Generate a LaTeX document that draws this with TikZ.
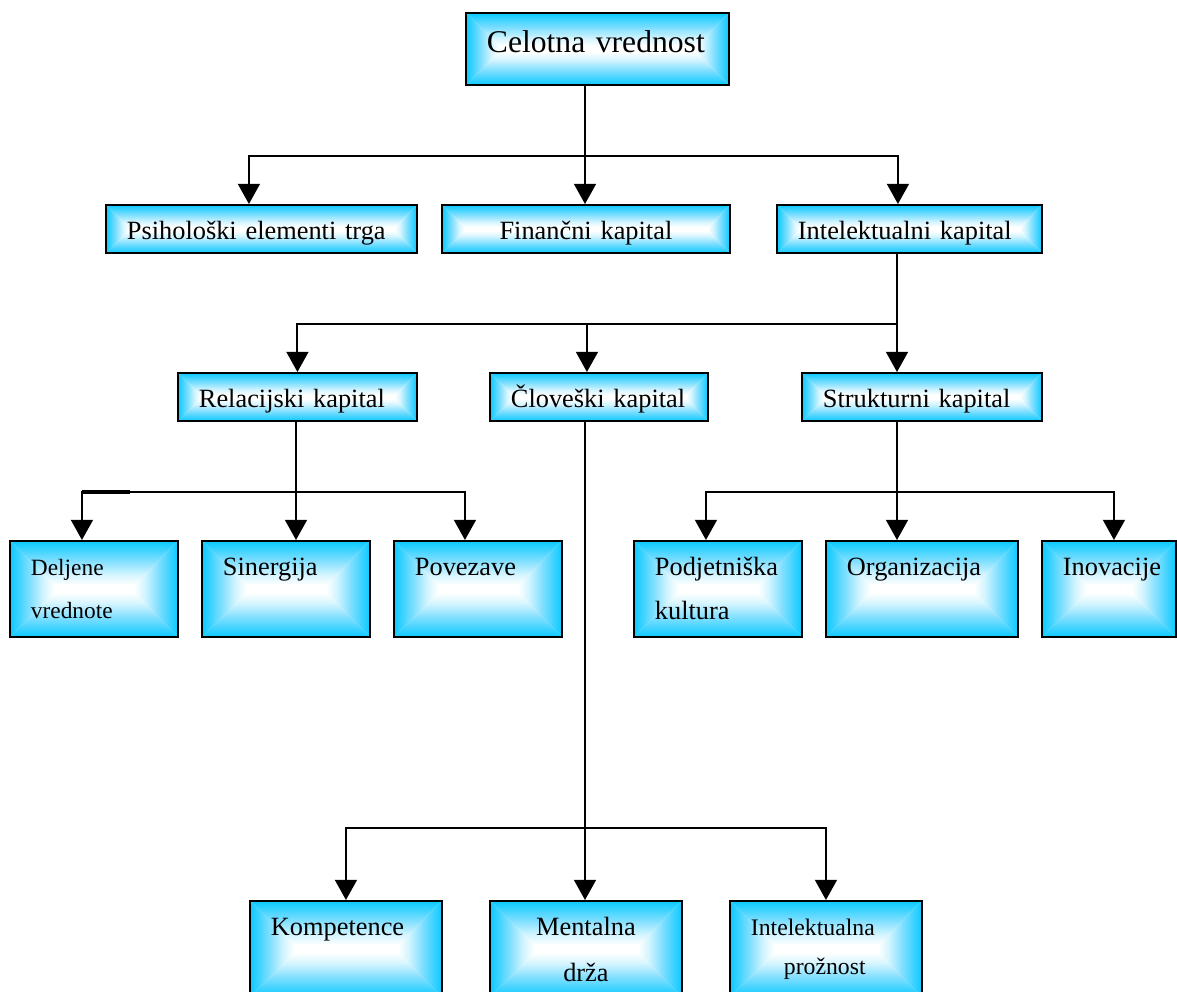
\documentclass[tikz,border=0pt]{standalone}
\usepackage{fontspec}
\setmainfont{Liberation Serif}
\usetikzlibrary{arrows.meta, calc, positioning}

\definecolor{boxcyan}{RGB}{10,202,255}
\definecolor{boxlight}{RGB}{212,245,255}
\definecolor{boxmid}{RGB}{125,222,255}
\pgfdeclareverticalshading{glowedge}{100bp}{color(0bp)=(white); color(25bp)=(white); color(29bp)=(white); color(40bp)=(boxlight); color(55bp)=(boxmid); color(75bp)=(boxcyan); color(100bp)=(boxcyan)}

\tikzset{
  glow/.style={path picture={
    \coordinate (gNW) at (path picture bounding box.north west);
    \coordinate (gNE) at (path picture bounding box.north east);
    \coordinate (gSW) at (path picture bounding box.south west);
    \coordinate (gSE) at (path picture bounding box.south east);
    \coordinate (gW) at (path picture bounding box.west);
    \coordinate (gE) at (path picture bounding box.east);
    \path let \p1=(gNW), \p2=(gSW), \n1={(\y1-\y2)/2} in
      coordinate (gL) at ($(gW)+(\n1,0pt)$)
      coordinate (gR) at ($(gE)-(\n1,0pt)$);
    \begin{scope}
      \clip (gNW) -- (gNE) -- (gR) -- (gL) -- cycle;
      \shade[shading=glowedge] (gW) rectangle (gNE);
    \end{scope}
    \begin{scope}
      \clip (gSW) -- (gSE) -- (gR) -- (gL) -- cycle;
      \shade[shading=glowedge, shading angle=180] (gSW) rectangle (gE);
    \end{scope}
    \begin{scope}
      \clip (gNW) -- (gL) -- (gSW) -- cycle;
      \shade[shading=glowedge, shading angle=90] (gSW) rectangle (gL |- gNW);
    \end{scope}
    \begin{scope}
      \clip (gNE) -- (gR) -- (gSE) -- cycle;
      \shade[shading=glowedge, shading angle=-90] (gR |- gSW) rectangle (gNE);
    \end{scope}
  }},
  box/.style={draw, line width=1.1pt, glow, anchor=north west, inner xsep=0.42cm, inner ysep=0pt,
    align=left, font=\fontsize{15}{18}\selectfont, text height=0.69cm},
  flat/.style={text depth=0.27cm},
  tall/.style={text depth=1.23cm},
  line/.style={line width=1.1pt},
  arr/.style={line width=1.1pt, -{Triangle[width=12.5pt,length=11.5pt]}}
}

\begin{document}
\begin{tikzpicture}[x=0.02cm,y=-0.02cm]
\useasboundingbox (0,0) rectangle (1177,991);
% The boxes
\node[box, text width=4.42cm, text height=0.8cm, text depth=0.64cm, font=\fontsize{18}{21}\selectfont] (celotna) at (465,12) {Celotna vrednost};

\node[box, flat, text width=5.38cm] (psi) at (105,204) {Psihološki elementi trga};
\node[box, flat, text width=4.92cm, align=center] (fin) at (441,204) {Finančni kapital};
\node[box, flat, text width=4.46cm] (intel) at (776,204) {Intelektualni kapital};

\node[box, flat, text width=3.94cm] (rel) at (177,372) {Relacijski kapital};
\node[box, flat, text width=3.52cm] (clo) at (489,372) {Človeški kapital};
\node[box, flat, text width=3.96cm] (str) at (801,372) {Strukturni kapital};

\node[box, tall, text width=2.52cm, font=\fontsize{13.3}{16}\selectfont] (delj) at (9,540) {Deljene\\[8.4pt]vrednote};
\node[box, tall, text width=2.52cm] (sin) at (201,540) {Sinergija};
\node[box, tall, text width=2.52cm] (pov) at (393,540) {Povezave};
\node[box, tall, text width=2.52cm] (podj) at (633,540) {Podjetniška\\[7pt]kultura};
\node[box, tall, text width=3.00cm] (org) at (825,540) {Organizacija};
\node[box, tall, text width=1.84cm] (ino) at (1041,540) {Inovacije};

\node[box, tall, text width=3.00cm] (komp) at (249,900) {Kompetence};
\node[box, tall, text width=3.00cm, align=center] (ment) at (489,900) {Mentalna\\[8pt]drža};
\node[box, tall, text width=3.00cm, font=\fontsize{13.5}{16}\selectfont] (intp) at (729,900) {Intelektualna\\[6pt]\hspace*{0.66cm}prožnost};

% Connectors
\coordinate (j1) at (585,156);
\draw[line] (celotna.south -| j1) -- (j1);
\draw[arr] (j1) -| ($(psi.north)+(-12.5,0)$);
\draw[arr] (j1) -- (j1 |- fin.north);
\draw[arr] (j1) -| ($(intel.north)+(-11.5,0)$);

\coordinate (j2) at (897,324);
\draw[line] (intel.south -| j2) -- (j2);
\draw[arr] (j2) -| (rel.north);
\draw[arr] (j2) -| ($(clo.north)+(-12,0)$);
\draw[arr] (j2) -- (j2 |- str.north);

\coordinate (j3) at (296,492);
\draw[line] (rel.south -| j3) -- (j3);
\draw[arr] (j3) -| ($(delj.north)+(-12,0)$);
\draw[arr] (j3) -- (j3 |- sin.north);
\draw[arr] (j3) -| ($(pov.north)+(-13,0)$);
\draw[line, line width=1.8pt] ($(delj.north)+(-12,-48)$) -- ++(48,0);

\coordinate (j4) at (897,492);
\draw[line] (str.south -| j4) -- (j4);
\draw[arr] (j4) -| ($(podj.north)+(-12,0)$);
\draw[arr] (j4) -- (j4 |- org.north);
\draw[arr] (j4) -| ($(ino.north)+(5,0)$);

\coordinate (j5) at (585,828);
\draw[line] (clo.south -| j5) -- (j5);
\draw[arr] (j5) -| (komp.north);
\draw[arr] (j5) -- (j5 |- ment.north);
\draw[arr] (j5) -| (intp.north);
\end{tikzpicture}
\end{document}
